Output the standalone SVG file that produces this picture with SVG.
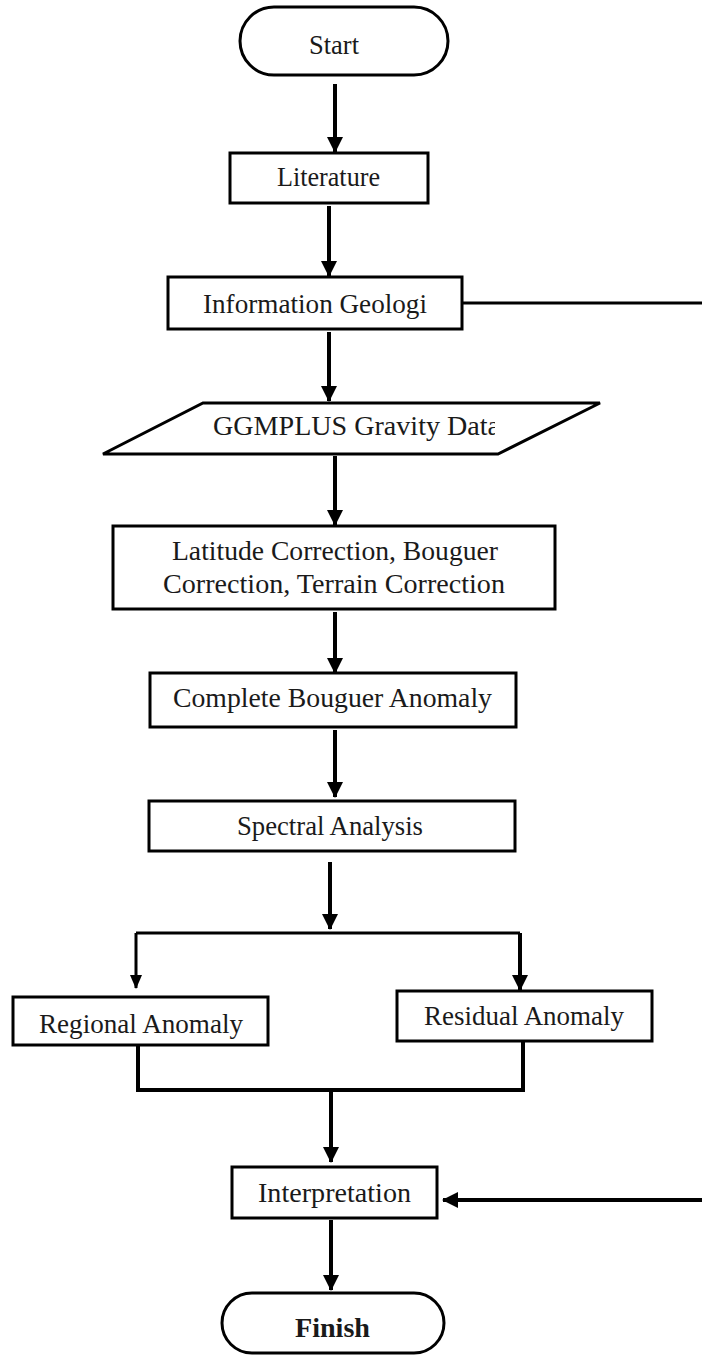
<svg xmlns="http://www.w3.org/2000/svg" width="702" height="1358" viewBox="0 0 702 1358">
<style>
.n{fill:#fff;stroke:#000;stroke-width:3}
.t{font-family:"Liberation Serif","Times New Roman",serif;font-size:27px;fill:#1a1a1a}
.c{fill:none;stroke:#000;stroke-width:4}
.th{stroke-width:3}
</style>
<defs>
<marker id="ah" markerUnits="userSpaceOnUse" markerWidth="16" markerHeight="16" refX="15" refY="8" orient="auto">
<path d="M0,0 L16,8 L0,16 z" fill="#000"/>
</marker>
<marker id="as" markerUnits="userSpaceOnUse" markerWidth="14" markerHeight="12" refX="13" refY="6" orient="auto">
<path d="M0,0 L14,6 L0,12 z" fill="#000"/>
</marker>
<clipPath id="gclip"><rect x="100" y="400" width="395" height="60"/></clipPath>
</defs>
<g id="connectors">
<path class="c" d="M335,84 V152" marker-end="url(#ah)"/>
<path class="c" d="M329,206 V276" marker-end="url(#ah)"/>
<path class="c" d="M329,332 V401" marker-end="url(#ah)"/>
<path class="c" d="M335,456 V525" marker-end="url(#ah)"/>
<path class="c" d="M335,612 V673" marker-end="url(#ah)"/>
<path class="c" d="M335,730 V797" marker-end="url(#ah)"/>
<path class="c" d="M330,862 V929" marker-end="url(#ah)"/>
<path class="c th" d="M136,933 H520"/>
<path class="c" d="M520,933 V990" marker-end="url(#ah)"/>
<path class="c th" d="M136,933 V988" marker-end="url(#as)"/>
<path class="c" d="M138,1045 V1090 H523 V1041"/>
<path class="c" d="M331,1090 V1162" marker-end="url(#ah)"/>
<path class="c" d="M331,1220 V1290" marker-end="url(#ah)"/>
<path class="c th" d="M462,303 H702"/>
<path class="c" d="M702,1200 H443" marker-end="url(#ah)"/>
</g>
<g id="start"><rect class="n" x="240" y="7" width="208" height="68" rx="34"/><text class="t" x="334" y="54" text-anchor="middle" textLength="50" lengthAdjust="spacingAndGlyphs">Start</text></g>
<g id="literature"><rect class="n" x="230" y="153" width="198" height="50"/><text class="t" x="328.5" y="186" text-anchor="middle" textLength="103" lengthAdjust="spacingAndGlyphs">Literature</text></g>
<g id="information-geologi"><rect class="n" x="168" y="277" width="294" height="52"/><text class="t" x="315" y="313" text-anchor="middle" textLength="224" lengthAdjust="spacingAndGlyphs">Information Geologi</text></g>
<g id="ggmplus"><polygon class="n" points="203,403 600,403 498,454 103,454"/><text class="t" x="213" y="435" textLength="287" lengthAdjust="spacingAndGlyphs" clip-path="url(#gclip)">GGMPLUS Gravity Data</text></g>
<g id="corrections"><rect class="n" x="113" y="526" width="442" height="83"/><text class="t" x="335" y="560" text-anchor="middle" textLength="326" lengthAdjust="spacingAndGlyphs">Latitude Correction, Bouguer</text><text class="t" x="334" y="593" text-anchor="middle" textLength="342" lengthAdjust="spacingAndGlyphs">Correction, Terrain Correction</text></g>
<g id="complete-bouguer"><rect class="n" x="150" y="673" width="366" height="54"/><text class="t" x="332.5" y="707" text-anchor="middle" textLength="319" lengthAdjust="spacingAndGlyphs">Complete Bouguer Anomaly</text></g>
<g id="spectral"><rect class="n" x="149" y="801" width="366" height="50"/><text class="t" x="330" y="835" text-anchor="middle" textLength="186" lengthAdjust="spacingAndGlyphs">Spectral Analysis</text></g>
<g id="regional"><rect class="n" x="13" y="997" width="255" height="48"/><text class="t" x="141" y="1033" text-anchor="middle" textLength="204" lengthAdjust="spacingAndGlyphs">Regional Anomaly</text></g>
<g id="residual"><rect class="n" x="397" y="991" width="255" height="50"/><text class="t" x="524" y="1025" text-anchor="middle" textLength="200" lengthAdjust="spacingAndGlyphs">Residual Anomaly</text></g>
<g id="interpretation"><rect class="n" x="232" y="1167" width="205" height="51"/><text class="t" x="334.5" y="1202" text-anchor="middle" textLength="153" lengthAdjust="spacingAndGlyphs">Interpretation</text></g>
<g id="finish"><rect class="n" x="222" y="1293" width="222" height="60" rx="30"/><text class="t" x="332.5" y="1337" text-anchor="middle" font-weight="bold" textLength="75" lengthAdjust="spacingAndGlyphs">Finish</text></g>
</svg>
